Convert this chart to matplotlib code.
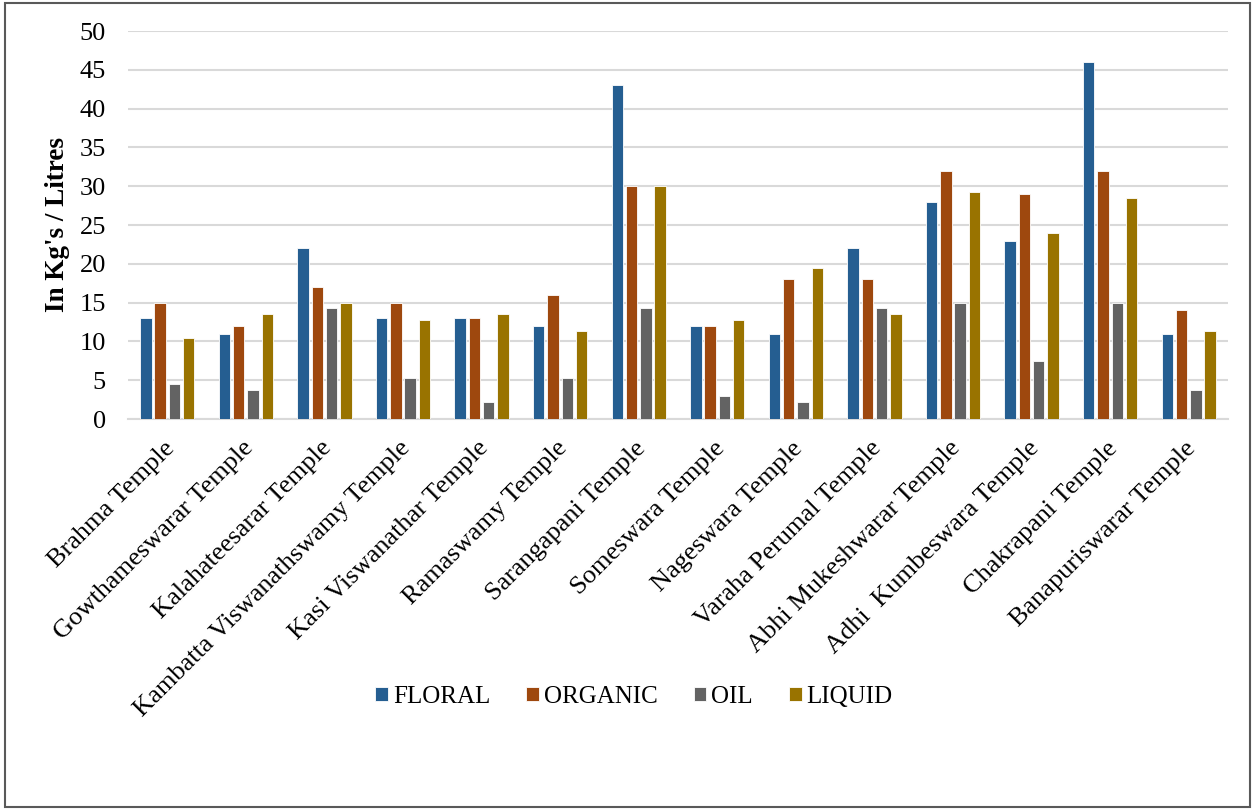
import matplotlib
matplotlib.use("Agg")
import matplotlib.pyplot as plt
import matplotlib.transforms as mtransforms
import numpy as np
from matplotlib.patches import Rectangle

plt.rcParams['font.family'] = ['Liberation Serif', 'DejaVu Serif']

temples = ["Brahma Temple", "Gowthameswarar Temple", "Kalahateesarar Temple",
           "Kambatta Viswanathswamy Temple", "Kasi Viswanathar Temple",
           "Ramaswamy Temple", "Sarangapani Temple", "Someswara Temple",
           "Nageswara Temple", "Varaha Perumal Temple", "Abhi Mukeshwarar Temple",
           "Adhi  Kumbeswara Temple", "Chakrapani Temple", "Banapuriswarar Temple"]
floral = [13, 11, 22, 13, 13, 12, 43, 12, 11, 22, 28, 23, 46, 11]
organic = [15, 12, 17, 15, 13, 16, 30, 12, 18, 18, 32, 29, 32, 14]
oil = [4.5, 3.8, 14.3, 5.3, 2.2, 5.3, 14.3, 3.0, 2.2, 14.3, 15, 7.5, 15, 3.8]
liquid = [10.5, 13.5, 15, 12.8, 13.5, 11.3, 30, 12.8, 19.5, 13.5, 29.3, 24, 28.5, 11.3]
series_names = ["FLORAL", "ORGANIC", "OIL", "LIQUID"]
colors = ["#255e91", "#9e480e", "#636363", "#997300"]

fig = plt.figure(figsize=(12.54, 8.09), dpi=100)
ax = fig.add_axes([128/1254, 1-419/809, (1228-128)/1254, (419-31)/809])

x = np.arange(len(temples))
w = 0.145
step = 0.182
for i, (vals, name, c) in enumerate(zip([floral, organic, oil, liquid], series_names, colors)):
    ax.bar(x + (i - 1.5) * step, vals, width=w, color=c, edgecolor='white',
           linewidth=0.6, label=name, zorder=3)

ax.set_xlim(-0.5, len(temples) - 0.5)
ax.set_ylim(0, 50)
ax.set_yticks(range(0, 51, 5))
ax.yaxis.grid(True, color='#d9d9d9', linewidth=1.5, zorder=0)
ax.set_axisbelow(True)
for s in ['top', 'right', 'left']:
    ax.spines[s].set_visible(False)
ax.spines['bottom'].set_color('#d9d9d9')
ax.spines['bottom'].set_linewidth(1.5)
ax.tick_params(axis='both', length=0, colors='black')
ax.tick_params(axis='y', pad=16, labelsize=19)
ax.set_xticks(x)
ax.set_xticklabels(temples, rotation=45, ha='right', va='top', rotation_mode='anchor', fontsize=19)
ax.tick_params(axis='x', pad=13)
offset = mtransforms.ScaledTranslation(-4/100, 0, fig.dpi_scale_trans)
for lbl in ax.get_xticklabels():
    lbl.set_transform(lbl.get_transform() + offset)
ax.set_ylabel("In Kg's / Litres", fontsize=19.5, fontweight='bold', labelpad=7)

leg = fig.legend(loc='center', bbox_to_anchor=(634/1254, 1-697/809), ncol=4, frameon=False,
                 fontsize=18, handlelength=0.5, handleheight=0.5, handletextpad=0.2,
                 columnspacing=1.45)

fig.patches.append(Rectangle((5/1254, 2/809), 1-9/1254, 1-5/809, transform=fig.transFigure,
                             fill=False, edgecolor='#595959', linewidth=1.5))

fig.savefig("out.png", dpi=100)
